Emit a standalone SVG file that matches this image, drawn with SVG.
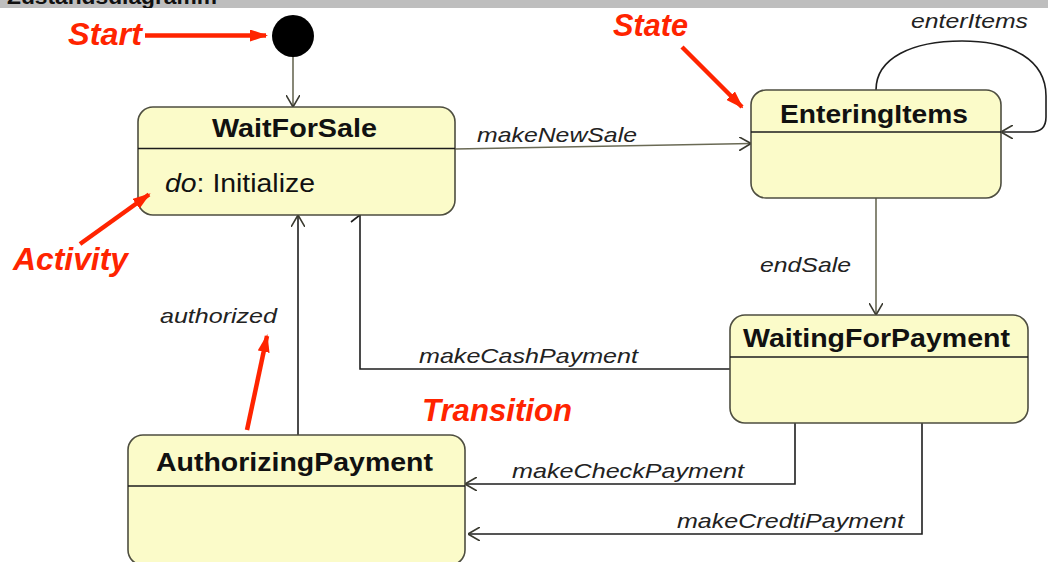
<svg xmlns="http://www.w3.org/2000/svg" width="1048" height="562" viewBox="0 0 1048 562">
  <defs>
    <style>
      .state { fill: #fbfbc9; stroke: #4e4e40; stroke-width: 1.6; }
      .divider { stroke: #1c1c1c; stroke-width: 1.5; }
      .name { font-family: "Liberation Sans", Arial, sans-serif; font-weight: bold; font-size: 26px; fill: #111; }
      .activity { font-family: "Liberation Sans", Arial, sans-serif; font-size: 26.5px; fill: #111; }
      .trigger { font-family: "Liberation Sans", Arial, sans-serif; font-style: italic; font-size: 21px; fill: #222; }
      .note { font-family: "Liberation Sans", Arial, sans-serif; font-style: italic; font-weight: bold; font-size: 31px; fill: #ff2400; }
      .conn { fill: none; stroke: #6a6a55; stroke-width: 1.6; }
      .conn-dark { fill: none; stroke: #1e1e1e; stroke-width: 1.6; }
      .pointer { fill: none; stroke: #ff2400; stroke-width: 4.5; }
    </style>
    <marker id="open" viewBox="0 0 12 14" refX="12" refY="7" markerWidth="12" markerHeight="14" markerUnits="userSpaceOnUse" orient="auto">
      <path d="M0,0 L12,7 L0,14" fill="none" stroke="#3a3a30" stroke-width="1.6"/>
    </marker>
    <marker id="red" viewBox="0 0 18 12" refX="16" refY="6" markerWidth="18" markerHeight="12" markerUnits="userSpaceOnUse" orient="auto">
      <path d="M0,0 L18,6 L0,12 Z" fill="#ff2400"/>
    </marker>
    <clipPath id="bar">
      <rect x="0" y="0" width="1048" height="8"/>
    </clipPath>
  </defs>

  <rect x="0" y="0" width="1048" height="562" fill="#ffffff"/>

  <!-- heading band, mostly cut off at the top edge -->
  <g id="heading">
    <rect x="0" y="0" width="1048" height="8" fill="#bebebe"/>
    <text x="7" y="3.5" clip-path="url(#bar)" font-family="'Liberation Sans', Arial, sans-serif" font-weight="bold" font-size="22" fill="#111" textLength="210" lengthAdjust="spacingAndGlyphs">Zustandsdiagramm</text>
  </g>

  <!-- transitions -->
  <g id="connectors">
    <line class="conn" x1="293" y1="57" x2="293" y2="107" marker-end="url(#open)"/>
    <line class="conn" x1="455" y1="149" x2="751" y2="143.5" marker-end="url(#open)"/>
    <path class="conn-dark" d="M876,90 C876,58 912,41 962,41 C1012,41 1046,60 1046,96 L1046,117 Q1046,132 1031,132 L1001,132" marker-end="url(#open)"/>
    <line class="conn" x1="876" y1="198" x2="876" y2="315" marker-end="url(#open)"/>
    <polyline class="conn-dark" points="730,369 360,369 360,215"/>
    <polyline class="conn-dark" points="351,208 360,215 351,222"/>
    <line class="conn-dark" x1="298" y1="435" x2="298" y2="215" marker-end="url(#open)"/>
    <polyline class="conn-dark" points="795,423 795,484 465,484" marker-end="url(#open)"/>
    <polyline class="conn-dark" points="922,423 922,534 468,534" marker-end="url(#open)"/>
  </g>

  <g id="initial">
    <circle cx="293" cy="36" r="21" fill="#000"/>
  </g>

  <g id="WaitForSale">
    <rect class="state" x="138" y="107" width="317" height="108" rx="15"/>
    <line class="divider" x1="138" y1="148.5" x2="455" y2="148.5"/>
    <text class="name" x="212" y="137" textLength="165" lengthAdjust="spacingAndGlyphs">WaitForSale</text>
    <text class="activity" x="165" y="192" textLength="150" lengthAdjust="spacingAndGlyphs"><tspan font-style="italic">do</tspan>: Initialize</text>
  </g>

  <g id="EnteringItems">
    <rect class="state" x="751" y="90" width="250" height="108" rx="15"/>
    <line class="divider" x1="751" y1="132" x2="1001" y2="132"/>
    <text class="name" x="780" y="123" textLength="188" lengthAdjust="spacingAndGlyphs">EnteringItems</text>
  </g>

  <g id="WaitingForPayment">
    <rect class="state" x="730" y="315" width="298" height="108" rx="15"/>
    <line class="divider" x1="730" y1="357" x2="1028" y2="357"/>
    <text class="name" x="743" y="347" textLength="267" lengthAdjust="spacingAndGlyphs">WaitingForPayment</text>
  </g>

  <g id="AuthorizingPayment">
    <rect class="state" x="128" y="435" width="337" height="130" rx="15"/>
    <line class="divider" x1="128" y1="486" x2="465" y2="486"/>
    <text class="name" x="156" y="471" textLength="277" lengthAdjust="spacingAndGlyphs">AuthorizingPayment</text>
  </g>

  <!-- trigger labels -->
  <g id="labels">
    <text class="trigger" x="911" y="27.5" textLength="117" lengthAdjust="spacingAndGlyphs">enterItems</text>
    <text class="trigger" x="477" y="141.5" textLength="160" lengthAdjust="spacingAndGlyphs">makeNewSale</text>
    <text class="trigger" x="760" y="272" textLength="91" lengthAdjust="spacingAndGlyphs">endSale</text>
    <text class="trigger" x="160" y="323" textLength="117" lengthAdjust="spacingAndGlyphs">authorized</text>
    <text class="trigger" x="419" y="363" textLength="219" lengthAdjust="spacingAndGlyphs">makeCashPayment</text>
    <text class="trigger" x="512" y="478" textLength="232" lengthAdjust="spacingAndGlyphs">makeCheckPayment</text>
    <text class="trigger" x="677" y="528" textLength="227" lengthAdjust="spacingAndGlyphs">makeCredtiPayment</text>
  </g>

  <!-- red annotations -->
  <g id="annotations">
    <text class="note" x="68" y="45" textLength="74" lengthAdjust="spacingAndGlyphs">Start</text>
    <line class="pointer" x1="145" y1="35.5" x2="266" y2="35.5" marker-end="url(#red)"/>
    <text class="note" x="613" y="36" font-size="30" textLength="75" lengthAdjust="spacingAndGlyphs">State</text>
    <line class="pointer" x1="682" y1="47" x2="742" y2="107" marker-end="url(#red)"/>
    <text class="note" x="13" y="270" textLength="115" lengthAdjust="spacingAndGlyphs">Activity</text>
    <line class="pointer" x1="80" y1="244" x2="149" y2="194.5" marker-end="url(#red)"/>
    <line class="pointer" x1="247" y1="430" x2="267" y2="336" marker-end="url(#red)"/>
    <text class="note" x="422" y="421" textLength="150" lengthAdjust="spacingAndGlyphs">Transition</text>
  </g>
</svg>
